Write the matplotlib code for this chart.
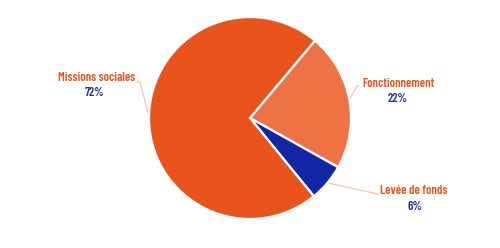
import numpy as np
import matplotlib
matplotlib.use("Agg")
import matplotlib.pyplot as plt

categories = ["Fonctionnement", "Levée de fonds", "Missions sociales"]
values = [22, 6, 72]
pct_labels = ["22%", "6%", "72%"]
colors = ["#EE7244", "#1327A6", "#E8541C"]

label_color = "#E8541C"
pct_color = "#2233A0"
line_color = "#F5BFA5"

W, H = 500, 248
fig = plt.figure(figsize=(W / 100, H / 100), dpi=100)
ax = fig.add_axes([0, 0, 1, 1])

cx, cy, r = 250, H - 118, 101
wedges, _ = ax.pie(values, colors=colors, startangle=50, counterclock=False,
                   center=(cx, cy), radius=r, frame=True,
                   wedgeprops=dict(edgecolor="white", linewidth=1.6))
ax.set_xlim(0, W)
ax.set_ylim(0, H)
ax.set_aspect("equal")
ax.axis("off")

layout = {
    "Fonctionnement": dict(tx=362, ty=H - 84, ha="left", px=398, elbow=(357, H - 86)),
    "Levée de fonds": dict(tx=380, ty=H - 191, ha="left", px=415, elbow=(378, H - 194)),
    "Missions sociales": dict(tx=135, ty=H - 78, ha="right", px=95, elbow=(140, H - 82)),
}

font = dict(family=["Barlow Condensed", "DejaVu Sans"], stretch="condensed",
            weight=600, fontsize=9)

for w, cat, pl in zip(wedges, categories, pct_labels):
    L = layout[cat]
    mid = np.deg2rad((w.theta1 + w.theta2) / 2)
    ex, ey = cx + r * np.cos(mid), cy + r * np.sin(mid)
    elx, ely = L["elbow"]
    endx = L["tx"] + (2 if L["ha"] == "right" else -3)
    ax.plot([ex, elx, endx], [ey, ely, ely], color=line_color, lw=0.8,
            solid_capstyle="round", zorder=0)
    ax.text(L["tx"], L["ty"], cat, ha=L["ha"], va="center", color=label_color, **font)
    ax.text(L["px"], L["ty"] - 15.5, pl, ha="center", va="center", color=pct_color, **font)

fig.savefig("out.png", dpi=100, facecolor="white")
